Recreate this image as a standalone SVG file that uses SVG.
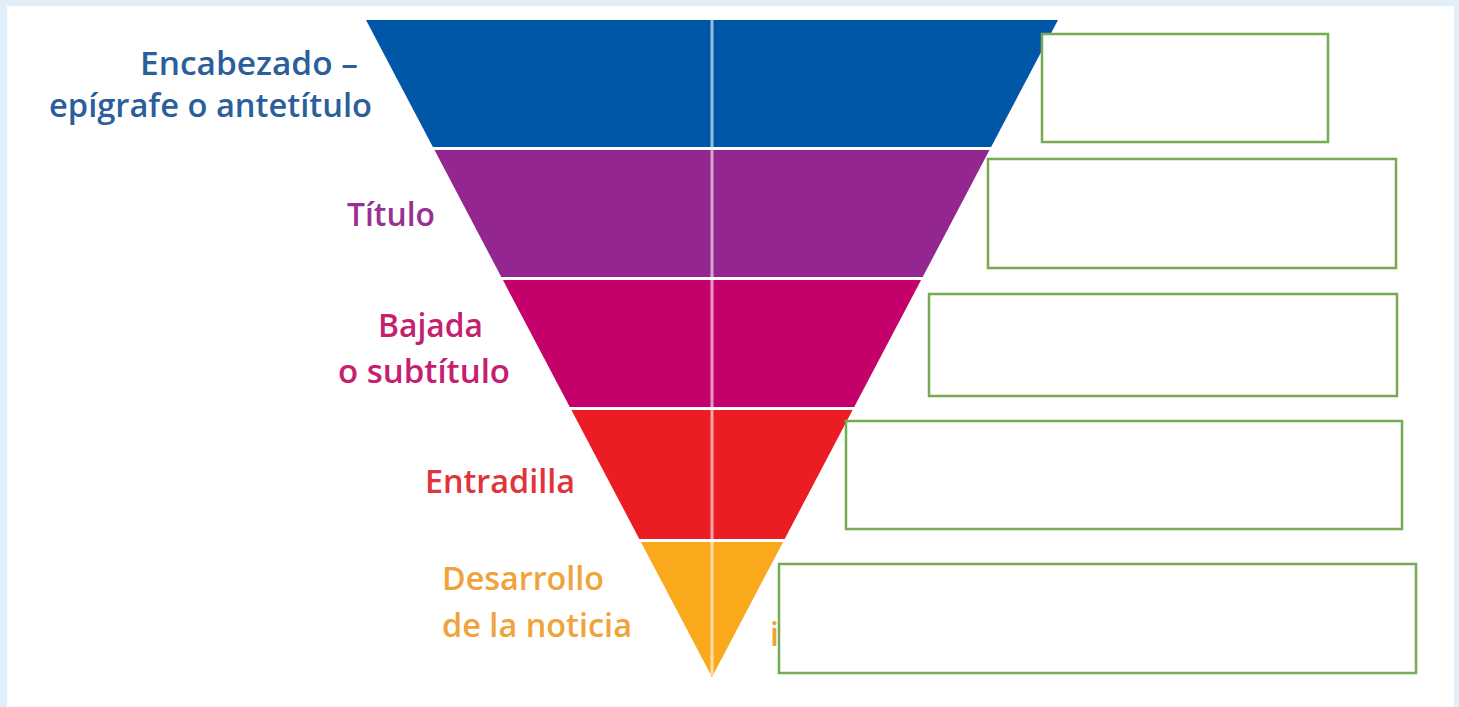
<svg xmlns="http://www.w3.org/2000/svg" width="1459" height="707" viewBox="0 0 1459 707">
<style>
.lbl{font-family:"Open Sans","Noto Sans","Liberation Sans",sans-serif;font-size:32px;font-weight:600;}
.box{fill:#ffffff;stroke:#76ab54;stroke-width:2.5;}
.sep{stroke:#ffffff;stroke-opacity:0.6;stroke-width:3;}
</style>
<rect x="0" y="0" width="1459" height="707" fill="#e1effa"/>
<rect x="7" y="6" width="1447" height="701" fill="#ffffff"/>
<g id="pyramid">
<polygon id="band-encabezado" points="366,20 1058,20 991.1,147 432.9,147" fill="#0057a8"/>
<polygon id="band-titulo" points="434.5,150 989.5,150 922.7,277 501.3,277" fill="#93268f"/>
<polygon id="band-bajada" points="502.9,280 921.1,280 854.2,407 569.8,407" fill="#c4006b"/>
<polygon id="band-entradilla" points="571.4,410 852.6,410 784.7,539 639.3,539" fill="#ec1c24"/>
<polygon id="band-desarrollo" points="640.9,542 783.1,542 712,677" fill="#f9a91b"/>
<line class="sep" x1="712" y1="20" x2="712" y2="675"/>
</g>
<g id="labels">
<text class="lbl" x="358" y="75" text-anchor="end" fill="#2b5f9c" textLength="218" lengthAdjust="spacingAndGlyphs">Encabezado –</text>
<text class="lbl" x="372" y="117" text-anchor="end" fill="#2b5f9c" textLength="323" lengthAdjust="spacingAndGlyphs">epígrafe o antetítulo</text>
<text class="lbl" x="435" y="226" text-anchor="end" fill="#9a3094" textLength="88" lengthAdjust="spacingAndGlyphs">Título</text>
<text class="lbl" x="483" y="337" text-anchor="end" fill="#c5206f" textLength="105" lengthAdjust="spacingAndGlyphs">Bajada</text>
<text class="lbl" x="510" y="383" text-anchor="end" fill="#c5206f" textLength="172" lengthAdjust="spacingAndGlyphs">o subtítulo</text>
<text class="lbl" x="575" y="493" text-anchor="end" fill="#e2323a" textLength="150" lengthAdjust="spacingAndGlyphs">Entradilla</text>
<text class="lbl" x="442" y="590" fill="#f0a33a" textLength="162" lengthAdjust="spacingAndGlyphs">Desarrollo</text>
<text class="lbl" x="442" y="637" fill="#f0a33a" textLength="190" lengthAdjust="spacingAndGlyphs">de la noticia</text>
<text class="lbl" x="770" y="646" fill="#f0a33a">i</text>
</g>
<g id="connectors"></g>
<g id="box1"><rect class="box" x="1042" y="34" width="286" height="108"/></g>
<g id="box2"><rect class="box" x="988" y="159" width="408" height="109"/></g>
<g id="box3"><rect class="box" x="929" y="294" width="468" height="102"/></g>
<g id="box4"><rect class="box" x="846" y="421" width="556" height="108"/></g>
<g id="box5"><rect class="box" x="779" y="564" width="637" height="109"/></g>
</svg>
